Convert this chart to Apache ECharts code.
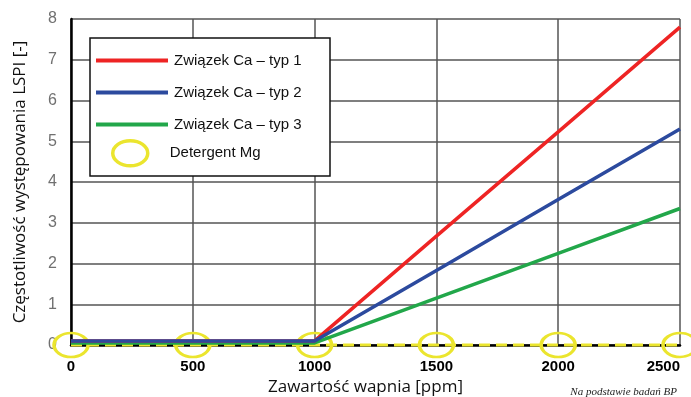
<!DOCTYPE html>
<html><head><meta charset="utf-8">
<script src="https://cdn.jsdelivr.net/npm/echarts@6/dist/echarts.min.js"></script>
<style>html,body{margin:0;padding:0;background:#fff}#c{width:691px;height:397px}</style>
</head><body><div id="c"></div>
<script>
var xValues = [0, 500, 1000, 1500, 2000, 2500];
var seriesNames = ['Związek Ca – typ 1', 'Związek Ca – typ 2', 'Związek Ca – typ 3', 'Detergent Mg'];
var caTyp1 = [0.1, 0.1, 0.1, 2.67, 5.23, 7.8];
var caTyp2 = [0.1, 0.1, 0.1, 1.83, 3.57, 5.3];
var caTyp3 = [0.05, 0.05, 0.05, 1.15, 2.25, 3.35];
var detergentMg = [0, 0, 0, 0, 0, 0];
var xTicks = [0, 500, 1000, 1500, 2000, 2500];
var yTicks = [0, 1, 2, 3, 4, 5, 6, 7, 8];

function pairs(arr){ return xValues.map(function(x,i){ return [x, arr[i]]; }); }
var colors = ['#ee2424', '#2c4a9e', '#22a74a', '#ebe52e'];

var chart = echarts.init(document.getElementById('c'), null, {renderer:'canvas'});
chart.setOption({
  animation: false,
  grid: {left: 71, right: 11, top: 19, bottom: 52, containLabel: false, outerBoundsMode: 'none'},
  title: {text: 'Na podstawie badań BP', right: 9, top: 382,
    textStyle: {fontFamily: 'Liberation Serif', fontStyle: 'italic', fontWeight: 'normal', fontSize: 11, color: '#222'}},
  graphic: [{type: 'rect', z: 5, shape: {x: 90, y: 38, width: 240, height: 138},
    style: {fill: '#fff', stroke: '#111', lineWidth: 1.5}}],
  legend: [{
    z: 10, orient: 'vertical', left: 96, top: 53, padding: 0, itemGap: 17,
    itemWidth: 72, itemHeight: 4,
    textStyle: {fontFamily: 'Liberation Sans', fontSize: 15, color: '#111', padding: [0,0,0,1]},
    data: [
      {name: seriesNames[0], icon: 'rect', itemStyle: {color: colors[0]}},
      {name: seriesNames[1], icon: 'rect', itemStyle: {color: colors[1]}},
      {name: seriesNames[2], icon: 'rect', itemStyle: {color: colors[2]}}
    ]
  }, {
    z: 10, orient: 'vertical', left: 111, top: 139, padding: 0,
    itemWidth: 35, itemHeight: 25,
    textStyle: {fontFamily: 'Liberation Sans', fontSize: 15, color: '#111', padding: [0,0,0,17]},
    data: [{name: seriesNames[3], icon: 'path://M0,12.5a17.5,12.5 0 1,0 35,0a17.5,12.5 0 1,0 -35,0z',
      itemStyle: {color: 'rgba(0,0,0,0)', borderColor: colors[3], borderWidth: 3.5}}]
  }],
  xAxis: {
    type: 'value', min: 0, max: 2500, interval: 500,
    name: 'Zawartość wapnia [ppm]', nameLocation: 'middle', nameGap: 30,
    nameTextStyle: {fontFamily: 'Open Sans', fontSize: 17, color: '#111', padding: [0, 20, 0, 0]},
    axisLine: {onZero: true, lineStyle: {color: '#000', width: 2.5}},
    axisTick: {show: false},
    axisLabel: {margin: 14, fontFamily: 'Liberation Sans', fontWeight: 'bold', fontSize: 15, color: '#000',
      alignMaxLabel: 'right',
      formatter: function(v){ return xTicks.indexOf(v) >= 0 ? String(v) : ''; }},
    splitLine: {show: true, lineStyle: {color: '#555', width: 1.5}}
  },
  yAxis: {
    type: 'value', min: 0, max: 8, interval: 1,
    name: 'Częstotliwość występowania LSPI [-]', nameLocation: 'middle', nameGap: 42,
    nameTextStyle: {fontFamily: 'Open Sans', fontSize: 17, color: '#111'},
    axisLine: {show: true, lineStyle: {color: '#000', width: 2.5}},
    axisTick: {show: false},
    axisLabel: {margin: 14, fontFamily: 'Liberation Sans', fontSize: 16, color: '#707070',
      formatter: function(v){ return yTicks.indexOf(v) >= 0 ? String(v) : ''; }},
    splitLine: {show: true, lineStyle: {color: '#555', width: 1.5}}
  },
  series: [
    {name: seriesNames[3], type: 'line', data: pairs(detergentMg), z: 3, clip: false,
      symbol: 'circle', symbolSize: [34, 24], showSymbol: true,
      lineStyle: {color: colors[3], width: 3, type: [11, 6]},
      itemStyle: {color: 'rgba(0,0,0,0)', borderColor: colors[3], borderWidth: 3}},
    {name: seriesNames[2], type: 'line', data: pairs(caTyp3), z: 4, symbol: 'none',
      lineStyle: {color: colors[2], width: 3.5}},
    {name: seriesNames[0], type: 'line', data: pairs(caTyp1), z: 4, symbol: 'none',
      lineStyle: {color: colors[0], width: 3.5}},
    {name: seriesNames[1], type: 'line', data: pairs(caTyp2), z: 4, symbol: 'none',
      lineStyle: {color: colors[1], width: 3.5}}
  ]
});
</script></body></html>
